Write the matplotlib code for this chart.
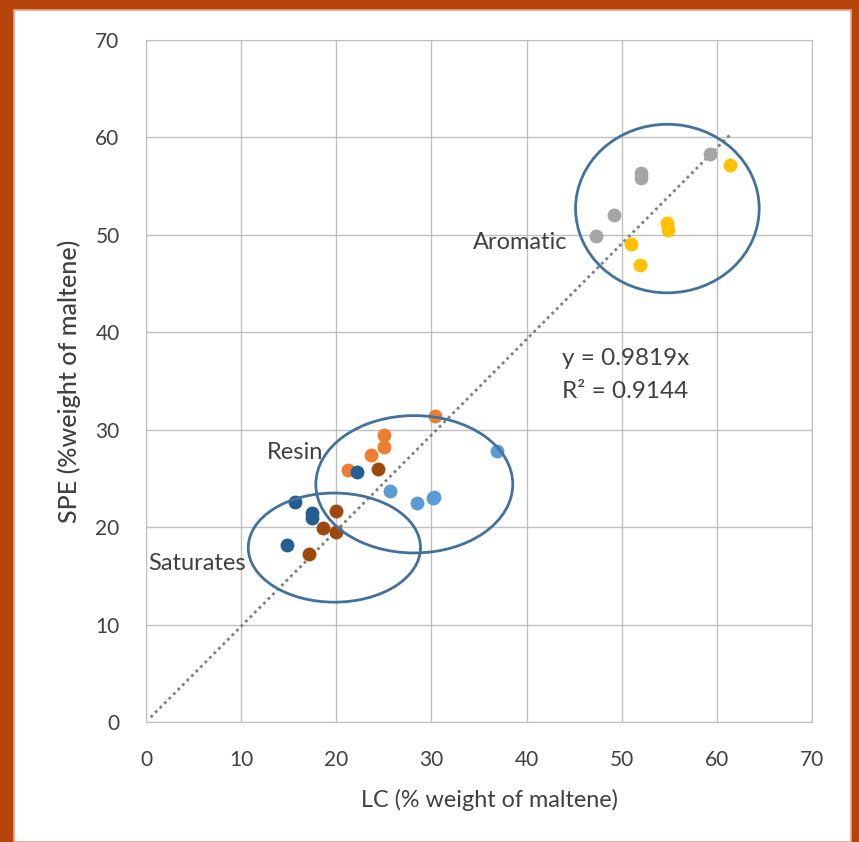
import matplotlib.pyplot as plt
from matplotlib.patches import Ellipse, Rectangle

plt.rcParams['font.family'] = ['Lato', 'DejaVu Sans']

# LC (x) vs SPE (y), % weight of maltene, one pair of lists per colour group
dark_blue_x = [22.2, 15.7, 17.4, 17.4, 14.8]
dark_blue_y = [25.7, 22.6, 21.5, 20.9, 18.2]
brown_x = [24.4, 20.0, 18.6, 20.0, 17.1]
brown_y = [26.0, 21.7, 19.9, 19.5, 17.2]
orange_x = [30.4, 25.0, 25.0, 23.6, 21.2]
orange_y = [31.4, 29.5, 28.2, 27.4, 25.9]
light_blue_x = [36.9, 25.6, 28.5, 30.2, 30.3]
light_blue_y = [27.8, 23.7, 22.5, 23.0, 23.1]
gray_x = [47.3, 49.2, 52.0, 52.0, 59.3]
gray_y = [49.9, 52.0, 56.4, 55.8, 58.3]
yellow_x = [51.0, 51.9, 54.8, 54.9, 61.4]
yellow_y = [49.1, 46.9, 51.2, 50.5, 57.2]

slope = 0.9819
r2 = 0.9144
trend_x = [0.5, 61.5]

# group outlines: label, centre, width, height
groups = ['Aromatic', 'Resin', 'Saturates']
group_centres = [(54.8, 52.7), (28.2, 24.4), (19.8, 17.9)]
group_widths = [19.3, 20.7, 18.1]
group_heights = [17.3, 14.1, 11.2]

fig = plt.figure(figsize=(8.59, 8.42), dpi=100, facecolor='#B5450A')
fig.patches.append(Rectangle((14 / 859, 0), 837 / 859, 832 / 842, transform=fig.transFigure,
                             facecolor='white', edgecolor='#F0A080', linewidth=1.2, zorder=-5))
ax = fig.add_axes([146 / 859, 120 / 842, 666 / 859, 682 / 842])
ax.set_facecolor('white')

ax.plot(trend_x, [slope * v for v in trend_x], color='#7F7F7F', linestyle=(0, (1, 1.3)),
        linewidth=2, zorder=2)

ms = 100
ax.scatter(gray_x, gray_y, s=ms, color='#A5A5A5', zorder=3, linewidths=0)
ax.scatter(yellow_x, yellow_y, s=ms, color='#FFC000', zorder=3, linewidths=0)
ax.scatter(orange_x, orange_y, s=ms, color='#ED7D31', zorder=3, linewidths=0)
ax.scatter(light_blue_x, light_blue_y, s=ms, color='#5B9BD5', zorder=3, linewidths=0)
ax.scatter(brown_x, brown_y, s=ms, color='#9E480E', zorder=3, linewidths=0)
ax.scatter(dark_blue_x, dark_blue_y, s=ms, color='#255E91', zorder=3, linewidths=0)

for c, w, h in zip(group_centres, group_widths, group_heights):
    ax.add_patch(Ellipse(c, w, h, fill=False, edgecolor='#41719C', linewidth=2, zorder=4))

ax.text(44.3, 49.2, 'Aromatic', fontsize=17, color='#404040', ha='right', va='center', zorder=5)
ax.text(12.7, 27.7, 'Resin', fontsize=17, color='#404040', ha='left', va='center', zorder=5)
ax.text(0.2, 16.3, 'Saturates', fontsize=17, color='#404040', ha='left', va='center', zorder=5)
ax.text(43.7, 35.6, 'y = %.4fx\nR² = %.4f' % (slope, r2), fontsize=17.5, color='#404040',
        ha='left', va='center', linespacing=1.7, zorder=5)

ax.set_xlim(0, 70)
ax.set_ylim(0, 70)
ax.set_xticks(range(0, 71, 10))
ax.set_yticks(range(0, 71, 10))
ax.grid(True, color='#BFBFBF', linewidth=1)
ax.set_axisbelow(True)
for s in ax.spines.values():
    s.set_color('#BFBFBF')
ax.tick_params(length=0, labelsize=15, labelcolor='#404040')
ax.tick_params(axis='x', pad=20)
ax.tick_params(axis='y', pad=19)
ax.set_xlabel('LC (% weight of maltene)', fontsize=16.8, color='#404040', labelpad=14)
ax.xaxis.label.set_x(0.516)
ax.set_ylabel('SPE (%weight of maltene)', fontsize=18, color='#404040', labelpad=10,
              fontweight='medium')

plt.savefig('out.png', dpi=100, facecolor=fig.get_facecolor())
